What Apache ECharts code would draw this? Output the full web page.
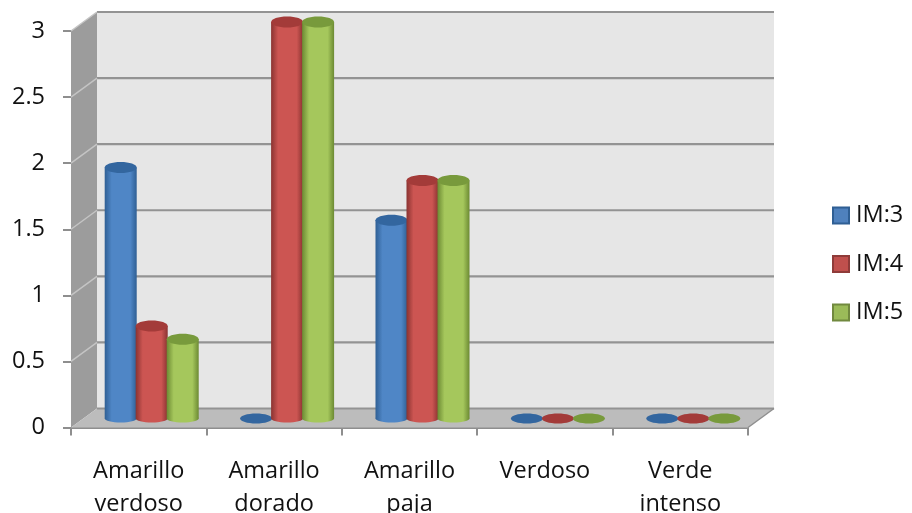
<!DOCTYPE html>
<html>
<head>
<meta charset="utf-8">
<style>html,body{margin:0;padding:0;background:#fff}#chart{width:912px;height:513px}</style>
<script src="https://cdn.jsdelivr.net/npm/echarts@6/dist/echarts.min.js"></script>
</head>
<body>
<div id="chart"></div>
<script>
const categories = ['Amarillo\nverdoso', 'Amarillo\ndorado', 'Amarillo\npaja', 'Verdoso', 'Verde\nintenso'];
const seriesNames = ['IM:3', 'IM:4', 'IM:5'];
const im3 = [1.9, 0, 1.5, 0, 0];
const im4 = [0.7, 3, 1.8, 0, 0];
const im5 = [0.6, 3, 1.8, 0, 0];
const yTicks = [0, 0.5, 1, 1.5, 2, 2.5, 3];
const seriesColors = ['#4f81bd', '#c0504d', '#9bbb59'];

// Per-series shades: cylinder edge, cylinder centre, top cap, legend border
const shades = [
  { edge: '#2f5f94', mid: '#4f86c6', cap: '#33669f', border: '#2f5f94' },
  { edge: '#8a3331', mid: '#cc5552', cap: '#a33b39', border: '#8f3b39' },
  { edge: '#6c8a33', mid: '#a5c75c', cap: '#789a3c', border: '#71893f' }
];

// Oblique depth of the 3D box and of the bars standing in its middle
const WALL_DX = 26, WALL_DY = -19;
const BAR_DX = 13, BAR_DY = -9;
const BAR_W = 31, RY = 5.5, BASE_RY = 4;

const FONT = '"Open Sans", Lato, sans-serif';
const FONT_SIZE = 23.5;
const AXIS_GREY = '#8e8e8e';

function renderBox(params, api) {
  if (params.dataIndex !== 0) return null;
  const g = params.coordSys;
  const l = g.x, r = g.x + g.width;
  const y0 = api.coord([0, 0])[1], y3 = api.coord([0, 3])[1];
  const children = [];
  const poly = (pts, fill) => ({ type: 'polygon', shape: { points: pts }, style: { fill: fill } });
  const seg = (x1, y1, x2, y2, stroke, w) => ({
    type: 'line', shape: { x1, y1, x2, y2 }, style: { stroke: stroke, lineWidth: w }
  });
  // back wall
  children.push(poly([[l + WALL_DX, y3 + WALL_DY], [r + WALL_DX, y3 + WALL_DY], [r + WALL_DX, y0 + WALL_DY], [l + WALL_DX, y0 + WALL_DY]], '#e6e6e6'));
  // side wall
  children.push(poly([[l, y3], [l + WALL_DX, y3 + WALL_DY], [l + WALL_DX, y0 + WALL_DY], [l, y0]], '#9c9c9c'));
  // floor
  children.push(poly([[l, y0], [l + WALL_DX, y0 + WALL_DY], [r + WALL_DX, y0 + WALL_DY], [r, y0]], '#bcbcbc'));
  yTicks.forEach(function (t) {
    const y = api.coord([0, t])[1];
    children.push(seg(l + WALL_DX, y + WALL_DY, r + WALL_DX, y + WALL_DY, '#939393', 2.2));
    if (t > 0) children.push(seg(l, y, l + WALL_DX, y + WALL_DY, '#c4c4c4', 1.5));
  });
  children.push(seg(r, y0, r + WALL_DX, y0 + WALL_DY, '#8f8f8f', 1.5));
  return { type: 'group', children: children };
}

function barRenderer(seriesIndex) {
  const shade = shades[seriesIndex];
  return function (params, api) {
    const c = api.coord([api.value(0), api.value(1)]);
    const base = api.coord([api.value(0), 0]);
    const cx = c[0] + BAR_DX + (seriesIndex - 1) * BAR_W;
    const topY = c[1] + BAR_DY;
    const baseY = base[1] + BAR_DY;
    const rx = BAR_W / 2 + 0.5;
    const ellipse = (y, ry, fill) => ({ type: 'ellipse', shape: { cx: cx, cy: y, rx: rx, ry: ry }, style: { fill: fill } });
    if (api.value(1) === 0) {
      return { type: 'group', children: [ellipse(baseY, 5, shade.cap)] };
    }
    const body = new echarts.graphic.LinearGradient(0, 0, 1, 0, [
      { offset: 0, color: shade.edge },
      { offset: 0.22, color: shade.mid },
      { offset: 0.8, color: shade.mid },
      { offset: 1, color: shade.edge }
    ]);
    return {
      type: 'group',
      children: [
        ellipse(baseY, BASE_RY, body),
        { type: 'rect', shape: { x: cx - rx, y: topY, width: rx * 2, height: baseY - topY }, style: { fill: body } },
        ellipse(topY, RY, shade.cap)
      ]
    };
  };
}

const chart = echarts.init(document.getElementById('chart'), null, { renderer: 'canvas' });
const seriesData = [im3, im4, im5];

chart.setOption({
  animation: false,
  backgroundColor: '#ffffff',
  textStyle: { fontFamily: FONT },
  grid: { left: 71, top: 31, width: 677, height: 396.5, containLabel: false, outerBoundsMode: 'none' },
  legend: {
    orient: 'vertical',
    left: 827,
    top: 196.5,
    itemWidth: 16,
    itemHeight: 16,
    itemGap: 20.5,
    textStyle: { fontSize: FONT_SIZE, color: '#111', fontFamily: FONT, padding: [0, 0, 0, 2], lineHeight: 28 },
    data: seriesNames.map(function (n, i) {
      return { name: n, icon: 'rect', itemStyle: { color: seriesColors[i], borderColor: shades[i].border, borderWidth: 2 } };
    })
  },
  xAxis: {
    type: 'category',
    data: categories,
    axisLine: { show: true, lineStyle: { color: AXIS_GREY, width: 2 } },
    axisTick: { show: true, alignWithLabel: false, length: 8, lineStyle: { color: AXIS_GREY, width: 2 } },
    axisLabel: { fontSize: FONT_SIZE, color: '#111', fontFamily: FONT, lineHeight: 33, margin: 27, interval: 0 }
  },
  yAxis: {
    type: 'value',
    min: 0,
    max: 3,
    interval: 0.5,
    axisLine: { show: false },
    axisTick: { show: true, length: 8, lineStyle: { color: AXIS_GREY, width: 2 } },
    axisLabel: { fontSize: FONT_SIZE, color: '#111', fontFamily: FONT, margin: 26 },
    splitLine: { show: false }
  },
  series: [
    { type: 'custom', name: 'box', silent: true, z: 1, renderItem: renderBox, data: [[0, 0]], encode: { x: 0, y: 1 } }
  ].concat(seriesNames.map(function (n, i) {
    return {
      type: 'custom',
      name: n,
      z: 2 + i,
      renderItem: barRenderer(i),
      itemStyle: { color: seriesColors[i] },
      encode: { x: 0, y: 1 },
      data: seriesData[i].map(function (v, k) { return [k, v]; })
    };
  }))
});
</script>
</body>
</html>
